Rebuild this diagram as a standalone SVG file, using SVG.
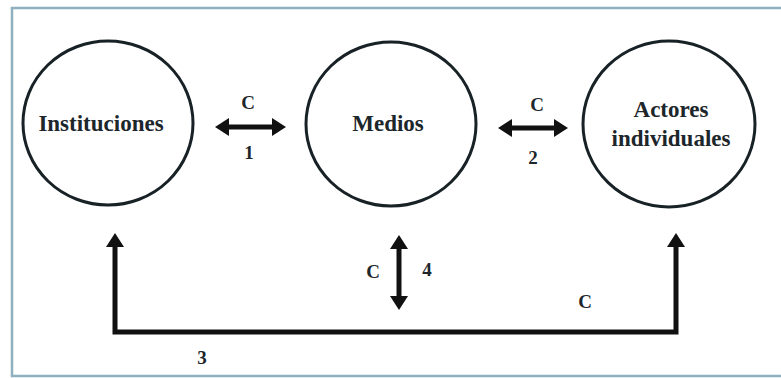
<svg xmlns="http://www.w3.org/2000/svg" width="781" height="378" viewBox="0 0 781 378">
  <style>
    .node { fill: #ffffff; stroke: #182226; stroke-width: 3; }
    .lbl { font-family: 'Liberation Serif', 'DejaVu Serif', 'Times New Roman', Times, serif; font-weight: 700; font-size: 23px; fill: #1c262b; text-anchor: middle; }
    .sm { font-family: 'Liberation Serif', 'DejaVu Serif', 'Times New Roman', Times, serif; font-weight: 700; font-size: 19px; fill: #1c262b; text-anchor: middle; }
    .conn { fill: none; stroke: #111111; stroke-width: 5; stroke-linejoin: miter; }
  </style>
  <defs>
    <marker id="head" viewBox="0 0 14 18" refX="3" refY="9" markerWidth="14" markerHeight="18" markerUnits="userSpaceOnUse" orient="auto-start-reverse">
      <path d="M0,0 L14,9 L0,18 Z" fill="#111111"/>
    </marker>
  </defs>
  <rect x="12" y="8" width="775" height="368" fill="#ffffff" stroke="#8fb0bf" stroke-width="2.5"/>

  <g id="instituciones">
    <ellipse class="node" cx="108" cy="123" rx="85" ry="82"/>
    <text class="lbl" x="101" y="131">Instituciones</text>
  </g>
  <g id="medios">
    <ellipse class="node" cx="391" cy="124" rx="85" ry="82"/>
    <text class="lbl" x="388" y="131">Medios</text>
  </g>
  <g id="actores">
    <ellipse class="node" cx="669" cy="124" rx="86" ry="83"/>
    <text class="lbl" x="671" y="117">Actores</text>
    <text class="lbl" x="671" y="146">individuales</text>
  </g>

  <g id="connectors">
    <line class="conn" x1="226" y1="127" x2="275" y2="127" marker-start="url(#head)" marker-end="url(#head)"/>
    <line class="conn" x1="509" y1="128" x2="557" y2="128" marker-start="url(#head)" marker-end="url(#head)"/>
    <line class="conn" x1="399" y1="246" x2="399" y2="299" marker-start="url(#head)" marker-end="url(#head)"/>
    <path class="conn" d="M115,244 V332 H676 V244" marker-start="url(#head)" marker-end="url(#head)"/>
    <text class="sm" x="248" y="109">C</text>
    <text class="sm" x="249" y="159">1</text>
    <text class="sm" x="537" y="111">C</text>
    <text class="sm" x="533" y="164">2</text>
    <text class="sm" x="373" y="278">C</text>
    <text class="sm" x="427" y="276">4</text>
    <text class="sm" x="585" y="308">C</text>
    <text class="sm" x="202" y="364">3</text>
  </g>
</svg>
